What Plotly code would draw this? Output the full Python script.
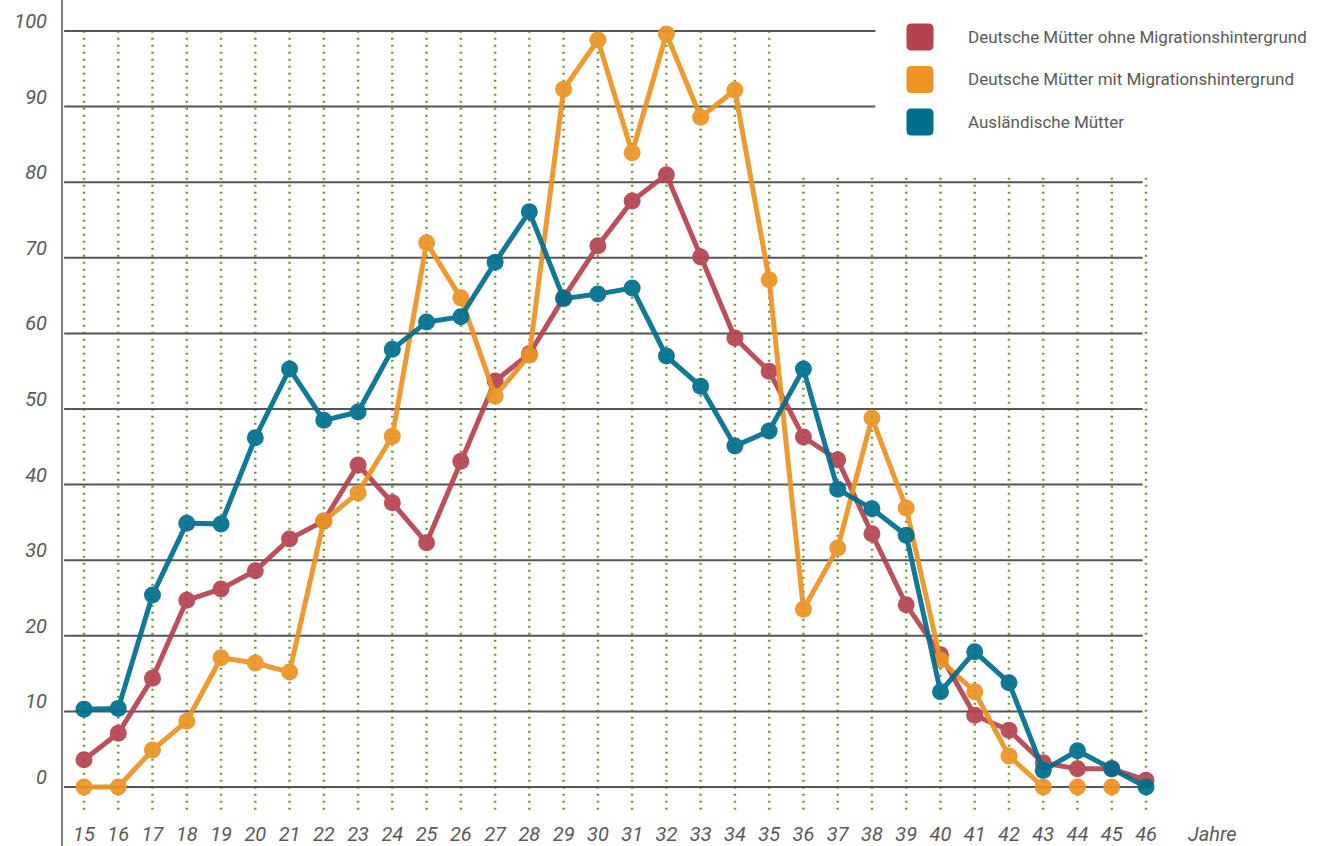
import plotly.graph_objects as go

ages = list(range(15, 47))
age_labels = [str(a) for a in ages]

ohne_migration = [3.6, 7.1, 14.4, 24.7, 26.2, 28.6, 32.8, 35.2, 42.6, 37.6, 32.3, 43.1, 53.7, 57.3, 64.7, 71.6,
                  77.5, 81.0, 70.1, 59.4, 55.0, 46.3, 43.3, 33.5, 24.1, 17.5, 9.5, 7.5, 3.2, 2.4, 2.4, 0.9]
mit_migration = [0, 0, 4.9, 8.7, 17.1, 16.4, 15.2, 35.2, 38.9, 46.4, 72.0, 64.7, 51.7, 57.1, 92.3, 98.8,
                 83.9, 99.6, 88.6, 92.2, 67.1, 23.5, 31.6, 48.8, 36.9, 16.8, 12.6, 4.1, 0, 0, 0, None]
auslaendisch = [10.3, 10.4, 25.4, 34.9, 34.8, 46.2, 55.3, 48.5, 49.6, 57.9, 61.5, 62.2, 69.4, 76.1, 64.6, 65.2,
                66.0, 57.0, 53.0, 45.1, 47.1, 55.3, 39.4, 36.8, 33.3, 12.6, 17.9, 13.8, 2.2, 4.8, 2.4, 0]

y_ticks = [0, 10, 20, 30, 40, 50, 60, 70, 80, 90, 100]

series_names = ['Deutsche Mütter ohne Migrationshintergrund',
                'Deutsche Mütter mit Migrationshintergrund',
                'Ausländische Mütter']
colors = ['#B5434F', '#EC9324', '#006E8D']

GRID = '#555555'
DOTS = '#76983A'
TEXT = '#5a5a5a'
FONT = 'Roboto'

# plot area in pixels (margin l=62, b=30)
L, R, T, B = 62, 1318, 0, 816


def px_x(p):
    return (p - L) / (R - L)


def px_y(q):
    return (B - q) / (B - T)


fig = go.Figure()

# orange values at 44/45 are drawn unconnected in the original
last_linked = ages.index(43) + 1
series = [
    (ohne_migration, ages, None),
    (mit_migration[:last_linked], ages[:last_linked], (ages[last_linked:31], mit_migration[last_linked:31])),
    (auslaendisch, ages, None),
]
for (vals, xs, extra), name, col in zip(series, series_names, colors):
    fig.add_trace(go.Scatter(x=xs, y=vals, name=name, mode='lines+markers',
                             line=dict(color=col, width=5),
                             marker=dict(color=col, size=17),
                             opacity=0.93, showlegend=False))
    if extra:
        fig.add_trace(go.Scatter(x=extra[0], y=extra[1], mode='markers',
                                 marker=dict(color=col, size=17),
                                 opacity=0.93, showlegend=False))

shapes = []
# dotted vertical grid
for a in ages:
    top = 99.9 if a <= 35 else 80.6
    shapes.append(dict(type='line', xref='x', yref='y', x0=a, x1=a, y0=-3.0, y1=top,
                       line=dict(color=DOTS, width=2.5, dash='2px,5px'), layer='below'))
# horizontal grid
for v in y_ticks:
    end = 38.1 if v >= 90 else 45.9
    shapes.append(dict(type='line', xref='x', yref='y', x0=14.42, x1=end, y0=v, y1=v,
                       line=dict(color=GRID, width=2), layer='below'))
# left axis line
shapes.append(dict(type='line', xref='paper', yref='paper', x0=0, x1=0, y0=px_y(846), y1=1,
                   line=dict(color=GRID, width=1.5)))

# legend boxes
annotations = []
for i, (name, col) in enumerate(zip(series_names, colors)):
    cx, cy, h, r = 920, 37 + 42.5 * i, 13.5, 5
    x0, x1, y0, y1 = cx - h, cx + h, cy - h, cy + h
    pts = [
        ('M', x0 + r, y0), ('L', x1 - r, y0), ('Q', x1, y0, x1, y0 + r),
        ('L', x1, y1 - r), ('Q', x1, y1, x1 - r, y1), ('L', x0 + r, y1),
        ('Q', x0, y1, x0, y1 - r), ('L', x0, y0 + r), ('Q', x0, y0, x0 + r, y0),
    ]
    path = ''
    for p in pts:
        coords = p[1:]
        conv = []
        for j in range(0, len(coords), 2):
            conv.append(f'{px_x(coords[j]):.5f},{px_y(coords[j + 1]):.5f}')
        path += p[0] + ' '.join(conv) + ' '
    shapes.append(dict(type='path', xref='paper', yref='paper', path=path + 'Z',
                       fillcolor=col, line=dict(width=0)))
    annotations.append(dict(xref='paper', yref='paper', x=px_x(966), y=px_y(cy),
                            text=name, showarrow=False, xanchor='left', yanchor='middle',
                            font=dict(family=FONT, size=17, color=TEXT)))

annotations.append(dict(xref='paper', yref='paper', x=px_x(1186), y=px_y(834),
                        text='Jahre', showarrow=False, xanchor='left', yanchor='middle',
                        font=dict(family=FONT, size=20, color=TEXT, style='italic')))

fig.update_layout(
    width=1318, height=846,
    margin=dict(l=L, r=0, t=T, b=846 - B),
    paper_bgcolor='white', plot_bgcolor='white',
    shapes=shapes, annotations=annotations,
    showlegend=False,
    xaxis=dict(range=[14.358, 51.02], tickvals=ages, ticktext=age_labels,
               showgrid=False, zeroline=False, showline=False, ticks='',
               ticklabelstandoff=4,
               tickfont=dict(family=FONT, size=20, color=TEXT, style='italic')),
    yaxis=dict(range=[-3.836, 104.1], tickvals=y_ticks, ticktext=[str(v) for v in y_ticks],
               showgrid=False, zeroline=False, showline=False, ticks='',
               ticklabelstandoff=14, ticklabelshift=-10,
               tickfont=dict(family=FONT, size=20, color=TEXT, style='italic')),
)

# the page's default body margin would push the fixed-size figure off by 8px
fig.write_html('out.html', config={'displayModeBar': False},
               post_script="document.body.style.margin='0';")
